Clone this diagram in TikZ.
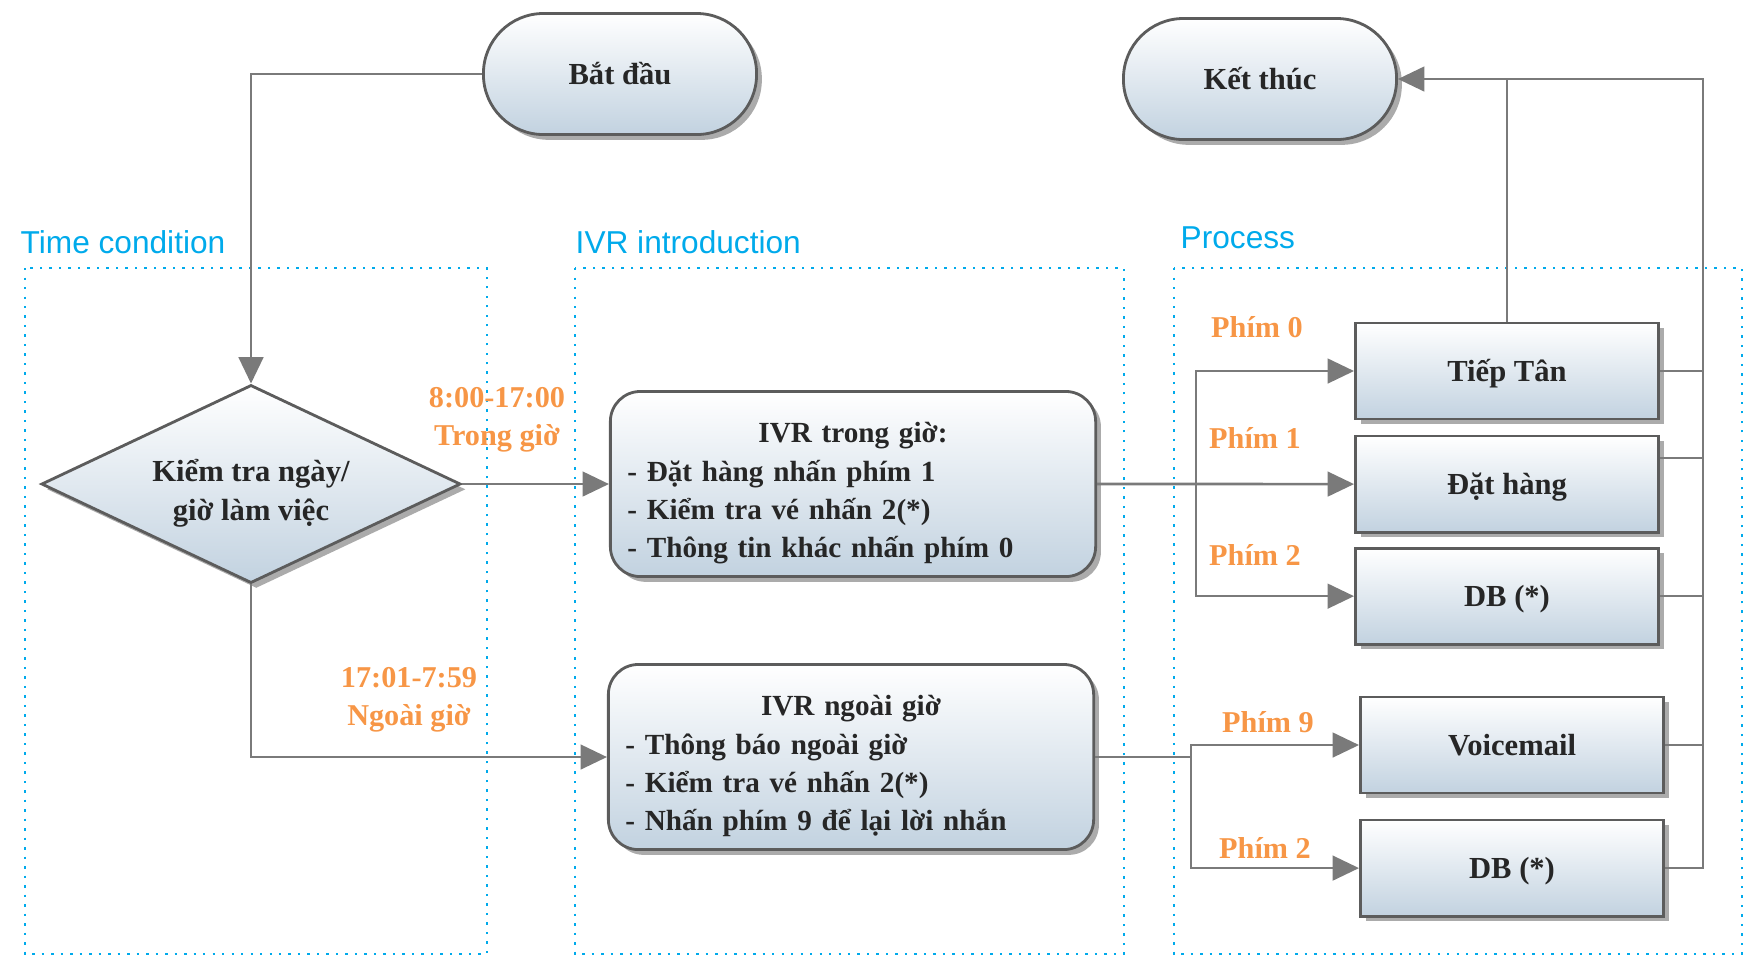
\documentclass[tikz,border=0pt]{standalone}
\usepackage{fontspec}
\setmainfont{Liberation Serif}
\setsansfont{Liberation Sans}
\usepackage{tikz}
\usetikzlibrary{shapes.geometric,arrows.meta,positioning,shadows}
\definecolor{linegray}{RGB}{122,122,122}
\definecolor{edgegray}{RGB}{92,92,92}
\definecolor{boxblue}{RGB}{194,210,224}
\definecolor{zonecyan}{RGB}{0,170,235}
\definecolor{keyorange}{RGB}{247,150,70}
\newcommand{\boxfont}{\bfseries\fontsize{8.7}{10.9}\selectfont}
\newcommand{\menufont}{\bfseries\fontsize{8.3}{10.9}\selectfont}
\tikzstyle{terminal} = [rectangle, draw=edgegray, line width=0.8pt, rounded corners=0.6cm,
    top color=white, bottom color=boxblue, minimum width=2.73cm, minimum height=1.21cm,
    text height=1.5ex, text depth=0.25ex,
    drop shadow={shadow xshift=1.5pt, shadow yshift=-1.5pt, fill=black!60, opacity=0.55},
    text=black!85, font=\boxfont]
\tikzstyle{decision} = [diamond, draw=edgegray, line width=0.8pt, aspect=2.1, inner sep=0pt,
    top color=white, bottom color=boxblue, minimum width=4.19cm, minimum height=1.98cm,
    drop shadow={shadow xshift=1.5pt, shadow yshift=-1.5pt, fill=black!60, opacity=0.55},
    text=black!85, font=\boxfont, align=center]
\tikzstyle{menu} = [rectangle, draw=edgegray, line width=0.8pt, rounded corners=0.3cm,
    top color=white, bottom color=boxblue, text width=4.51cm, inner xsep=0.17cm,
    inner ysep=0.1cm, minimum height=1.85cm, align=left,
    drop shadow={shadow xshift=1.5pt, shadow yshift=-1.5pt, fill=black!60, opacity=0.55},
    text=black!85, font=\menufont]
\tikzstyle{process} = [rectangle, draw=edgegray, line width=0.8pt,
    top color=white, bottom color=boxblue, minimum width=3.03cm, minimum height=0.96cm,
    text height=1.5ex, text depth=0.25ex,
    drop shadow={shadow xshift=1.5pt, shadow yshift=-1.5pt, fill=black!60, opacity=0.55},
    text=black!85, font=\boxfont]
\tikzstyle{zone} = [draw=zonecyan, dotted, line width=0.7pt]
\tikzstyle{zonelabel} = [anchor=west, inner sep=0pt, text=zonecyan,
    font=\sffamily\fontsize{9}{11}\selectfont]
\tikzstyle{key} = [text=keyorange, inner sep=0pt, align=center,
    font=\bfseries\fontsize{8.6}{10.8}\selectfont]
\tikzstyle{line} = [draw=linegray, line width=0.75pt]

\begin{document}
\begin{tikzpicture}[x=0.01cm, y=-0.01cm, node distance=1.13cm, >={Triangle[length=7.5pt,width=7pt]}]
    \useasboundingbox (0,0) rectangle (1749,959);

    % Zones
    \draw[zone] (25,268) rectangle (487,954);
    \draw[zone] (575,268) rectangle (1124,954);
    \draw[zone] (1174,268) rectangle (1742,954);
    \node[zonelabel] (ztime) at (20,242) {Time condition};
    \node[zonelabel] (zivr) at (575,242) {IVR introduction};
    \node[zonelabel] (zproc) at (1180,238) {Process};

    % Place nodes
    \node[terminal] (start) at (620,74) {Bắt đầu};
    \node[terminal] (stop) at (1260,79) {Kết thúc};
    \node[decision] (chk) at (251,484) {\rule{0pt}{2.9ex}Kiểm tra ngày/\\giờ làm việc};

    % IVR menus
    \node[menu] (ivrin) at (853,484) {\rule{0pt}{2.9ex}\makebox[\linewidth]{IVR trong giờ:}\\
        - Đặt hàng nhấn phím 1\\- Kiểm tra vé nhấn 2(*)\\- Thông tin khác nhấn phím 0};
    \node[menu] (ivrout) at (851,757) {\rule{0pt}{2.9ex}\makebox[\linewidth]{IVR ngoài giờ}\\
        - Thông báo ngoài giờ\\- Kiểm tra vé nhấn 2(*)\\- Nhấn phím 9 để lại lời nhắn};

    % Process boxes
    \node[process] (tt) at (1507,371) {Tiếp Tân};
    \node[process, below of=tt] (dh) {Đặt hàng};
    \node[process, below of=dh, node distance=1.12cm] (db1) {DB (*)};
    \node[process] (vm) at (1512,745) {Voicemail};
    \node[process, below of=vm, node distance=1.23cm] (db2) {DB (*)};

    % Labels
    \node[key] (lblin) at (497,420) {8:00-17:00\\Trong giờ};
    \node[key] (lblout) at (409,700) {17:01-7:59\\Ngoài giờ};
    \node[key] (k0) at (1257,327) {Phím 0};
    \node[key] (k1) at (1255,438) {Phím 1};
    \node[key] (k2) at (1255,555) {Phím 2};
    \node[key] (k9) at (1268,722) {Phím 9};
    \node[key] (k2b) at (1265,848) {Phím 2};

    % Draw edges
    \coordinate (b1) at (1196,484);
    \coordinate (b2) at (1191,757);
    \coordinate (rt) at (1703,79);
    \draw[line, ->] (start.west) -| (chk.north);
    \draw[line, ->] (chk.east) -- (ivrin.west);
    \draw[line, ->] (chk.south) |- (ivrout.west);
    \draw[line, ->] (ivrin.east) -- (dh.west);
    \draw[line, ->] (b1) |- (tt.west);
    \draw[line, ->] (b1) |- (db1.west);
    \draw[line] (ivrout.east) -- (b2);
    \draw[line, ->] (b2) |- (vm.west);
    \draw[line, ->] (b2) |- (db2.west);

    % Back to end
    \draw[line, ->] (db2.east) -| (rt) -- (stop.east);
    \draw[line] (tt.north) -- (tt.north |- rt);
    \draw[line] (tt.east) -- (tt.east -| rt);
    \draw[line] ([yshift=0.26cm]dh.east) -- ([yshift=0.26cm]dh.east -| rt);
    \draw[line] (db1.east) -- (db1.east -| rt);
    \draw[line] (vm.east) -- (vm.east -| rt);
\end{tikzpicture}
\end{document}
